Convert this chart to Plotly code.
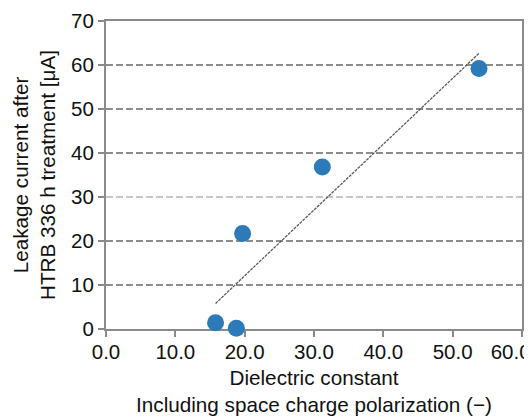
import numpy as np
import plotly.graph_objects as go

# Data
dielectric_constant = [15.8, 18.8, 19.7, 31.2, 53.8]
leakage_current = [1.4, 0.15, 21.7, 36.8, 59.2]

x_ticks = [0, 10, 20, 30, 40, 50, 60]
x_tick_labels = ["0.0", "10.0", "20.0", "30.0", "40.0", "50.0", "60.0"]
y_ticks = [0, 10, 20, 30, 40, 50, 60, 70]
grid_dark = [10, 20, 40, 50, 60]
grid_light = [30]

# Linear trend line (least squares fit)
slope, intercept = np.polyfit(dielectric_constant, leakage_current, 1)
trend_x = [min(dielectric_constant), max(dielectric_constant)]
trend_y = [slope * v + intercept for v in trend_x]

FONT = "Liberation Sans, Arial, sans-serif"
AXIS_COLOR = "#8a8a8a"

# last label is pushed left so it stays inside the page, as in the reference
x_text = list(x_tick_labels)
x_text[-1] = x_text[-1] + "\u00a0" * 4

fig = go.Figure()

fig.add_trace(go.Scatter(
    x=trend_x, y=trend_y, mode="lines",
    line=dict(color="#5a5a5a", width=1.3, dash="3px,1px"),
    hoverinfo="skip", showlegend=False,
))

fig.add_trace(go.Scatter(
    x=dielectric_constant, y=leakage_current, mode="markers",
    marker=dict(size=17, color="#2c7bb8"),
    cliponaxis=False, showlegend=False,
))

for v in grid_dark:
    fig.add_hline(y=v, line=dict(color="#8c8c8c", width=2, dash="7px,3px"), layer="below")
for v in grid_light:
    fig.add_hline(y=v, line=dict(color="#b5b5b5", width=1.4, dash="7px,3px"), layer="below")

# the page body has an 8px default margin, so the figure is shrunk by 8px
fig.update_layout(
    width=524, height=408,
    margin=dict(l=98, r=10, t=13, b=87),
    paper_bgcolor="white", plot_bgcolor="white",
    font=dict(family=FONT, size=20.5, color="#111111"),
    xaxis=dict(
        range=[0, 60], tickvals=x_ticks, ticktext=x_text,
        ticklabeloverflow="allow",
        showgrid=False, zeroline=False, automargin=False,
        showline=True, linecolor=AXIS_COLOR, linewidth=2, mirror=True,
        ticks="outside", ticklen=6, tickcolor=AXIS_COLOR, tickwidth=1.5,
        tickfont=dict(size=20.5), ticklabelstandoff=-3,
        layer="below traces",
        title=dict(text="Dielectric constant<br>Including space charge polarization (−)",
                   font=dict(size=20.7), standoff=17),
    ),
    yaxis=dict(
        range=[0, 70], tickvals=y_ticks,
        showgrid=False, zeroline=False, automargin=False,
        showline=True, linecolor=AXIS_COLOR, linewidth=2, mirror=True,
        ticks="outside", ticklen=6, tickcolor=AXIS_COLOR, tickwidth=1.5,
        tickfont=dict(size=20.5),
        layer="below traces",
        title=dict(text="Leakage current after<br>HTRB 336 h treatment [μA]",
                   font=dict(size=20.7), standoff=10),
    ),
)

fig.write_html("out.html")
